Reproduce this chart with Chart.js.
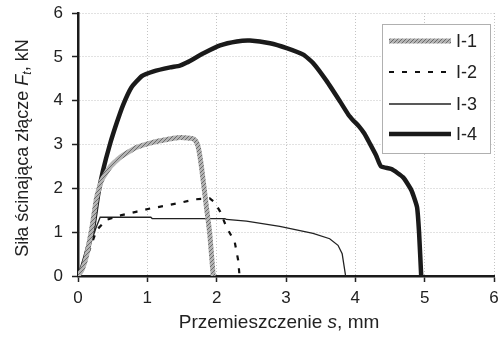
<!DOCTYPE html>
<html>
<head>
<meta charset="utf-8">
<script src="https://cdn.jsdelivr.net/npm/chart.js@4"></script>
<style>
  body { margin: 0; background: #fff; }
  #wrap { width: 499px; height: 344px; }
</style>
</head>
<body>
<div id="wrap"><canvas id="chLine"></canvas></div>
<script>
// tick labels
let xTicks = [0, 1, 2, 3, 4, 5, 6];
let yTicks = [0, 1, 2, 3, 4, 5, 6];
let labels = ['I-1', 'I-2', 'I-3', 'I-4'];

// I-1
let x1 = [0, 0.06, 0.12, 0.2, 0.27, 0.34, 0.46, 0.6, 0.84, 1.08, 1.3, 1.47, 1.58, 1.66, 1.71, 1.74, 1.78, 1.85, 1.9, 1.95];
let y1 = [0, 0.15, 0.44, 1.1, 1.8, 2.18, 2.48, 2.7, 2.93, 3.05, 3.12, 3.16, 3.15, 3.13, 3.05, 2.9, 2.5, 1.6, 0.97, 0];
// I-2
let x2 = [0, 0.1, 0.2, 0.27, 0.41, 0.63, 0.85, 1.04, 1.25, 1.47, 1.69, 1.9, 1.97, 2.05, 2.14, 2.26, 2.31, 2.33];
let y2 = [0, 0.3, 0.75, 1.05, 1.28, 1.39, 1.47, 1.54, 1.6, 1.67, 1.75, 1.77, 1.68, 1.47, 1.12, 0.78, 0.36, 0];
// I-3
let x3 = [0, 0.1, 0.2, 0.26, 0.32, 1.05, 1.07, 2.12, 2.14, 2.43, 2.91, 3.39, 3.63, 3.75, 3.81, 3.86];
let y3 = [0, 0.3, 0.82, 1.1, 1.34, 1.34, 1.31, 1.31, 1.29, 1.25, 1.13, 0.97, 0.85, 0.7, 0.51, 0];
// I-4
let x4 = [0, 0.05, 0.12, 0.22, 0.29, 0.36, 0.46, 0.56, 0.65, 0.77, 0.92, 1.09, 1.33, 1.47, 1.57, 1.81, 2.05, 2.29, 2.48, 2.77, 3.01, 3.25, 3.39, 3.59, 3.78, 3.9, 3.97, 4.05, 4.13, 4.21, 4.3, 4.37, 4.52, 4.69, 4.81, 4.89, 4.92, 4.95];
let y4 = [0, 0.15, 0.51, 1.12, 1.85, 2.4, 3.0, 3.5, 3.9, 4.3, 4.56, 4.67, 4.76, 4.8, 4.87, 5.08, 5.26, 5.35, 5.37, 5.31, 5.2, 5.05, 4.86, 4.44, 3.98, 3.68, 3.55, 3.42, 3.25, 3.02, 2.75, 2.5, 2.44, 2.25, 1.95, 1.57, 0.97, 0];

function pts(xs, ys) {
    return xs.map((x, i) => ({ x: x, y: ys[i] }));
}

// speckled grey for I-1
function hatch() {
    let c = document.createElement('canvas');
    c.width = 4; c.height = 4;
    let g = c.getContext('2d');
    g.fillStyle = '#b4b4b4';
    g.fillRect(0, 0, 4, 4);
    g.fillStyle = '#6a6a6a';
    g.fillRect(0, 0, 1, 1);
    g.fillRect(2, 2, 1, 1);
    g.fillRect(1, 3, 1, 1);
    g.fillRect(3, 1, 1, 1);
    return g.createPattern(c, 'repeat');
}

let font = "'Liberation Sans', Arial, sans-serif";

// axis titles with italic parts
const titles = {
    id: 'titles',
    afterDraw(chart) {
        let ctx = chart.ctx;
        function drawParts(parts, cx, cy) {
            let w = 0;
            parts.forEach(p => {
                ctx.font = (p.it ? 'italic ' : '') + p.size + 'px ' + font;
                p.w = ctx.measureText(p.t).width;
                w += p.w;
            });
            let x = cx - w / 2;
            parts.forEach(p => {
                ctx.font = (p.it ? 'italic ' : '') + p.size + 'px ' + font;
                ctx.fillText(p.t, x, cy + (p.dy || 0));
                x += p.w;
            });
        }
        ctx.save();
        ctx.fillStyle = '#222';
        ctx.textBaseline = 'middle';
        ctx.textAlign = 'left';
        drawParts([
            { t: 'Przemieszczenie ', size: 19 },
            { t: 's', size: 19, it: true },
            { t: ', mm', size: 19 }
        ], 279, 323);
        ctx.translate(23, 148);
        ctx.rotate(-Math.PI / 2);
        drawParts([
            { t: 'Siła ścinająca złącze ', size: 18 },
            { t: 'F', size: 18, it: true },
            { t: 't', size: 12, it: true, dy: 5 },
            { t: ', kN', size: 18 }
        ], 0, 0);
        ctx.restore();
    }
};

// boxed legend inside the plot
const boxLegend = {
    id: 'boxLegend',
    afterDraw(chart) {
        let ctx = chart.ctx;
        ctx.save();
        ctx.fillStyle = '#fff';
        ctx.fillRect(382, 24, 108, 129);
        ctx.strokeStyle = '#b0b0b0';
        ctx.lineWidth = 1;
        ctx.strokeRect(382.5, 24.5, 108, 129);
        let rows = [41, 72, 104, 134];
        chart.data.datasets.forEach((ds, i) => {
            ctx.strokeStyle = ds.borderColor;
            ctx.lineWidth = ds.borderWidth;
            ctx.setLineDash(ds.borderDash || []);
            ctx.beginPath();
            ctx.moveTo(389, rows[i]);
            ctx.lineTo(451, rows[i]);
            ctx.stroke();
            ctx.setLineDash([]);
            ctx.fillStyle = '#222';
            ctx.font = '18px ' + font;
            ctx.textBaseline = 'middle';
            ctx.fillText(ds.label, 456, rows[i] + 1);
        });
        ctx.restore();
    }
};

let ctxEl = document.getElementById('chLine');
new Chart(ctxEl, {
    type: 'line',
    data: {
        datasets: [
            { label: labels[0], data: pts(x1, y1), borderColor: hatch(), borderWidth: 5, tension: 0.15 },
            { label: labels[1], data: pts(x2, y2), borderColor: '#111', borderWidth: 2.2, borderDash: [5, 8], tension: 0 },
            { label: labels[2], data: pts(x3, y3), borderColor: '#222', borderWidth: 1.3, tension: 0 },
            { label: labels[3], data: pts(x4, y4), borderColor: '#1a1a1a', borderWidth: 4.5, tension: 0.15 }
        ]
    },
    options: {
        responsive: true,
        maintainAspectRatio: false,
        animation: false,
        elements: { point: { radius: 0 } },
        layout: { padding: { left: 0, top: 13, right: 5, bottom: 0 } },
        plugins: { legend: { display: false }, tooltip: { enabled: false } },
        scales: {
            x: {
                type: 'linear', min: 0, max: 6,
                afterFit(s) { s.height = 68; s.paddingLeft = 0; s.paddingRight = 0; },
                afterBuildTicks(s) { s.ticks = xTicks.map(v => ({ value: v })); },
                ticks: { font: { family: font, size: 17 }, color: '#222', padding: 6, maxRotation: 0 },
                grid: { color: '#c4c4c4', tickColor: '#222', tickLength: 6, tickWidth: 1.5, tickBorderDash: [] },
                border: { color: '#1a1a1a', width: 2.5, dash: [1, 2] }
            },
            y: {
                min: 0, max: 6,
                afterFit(s) { s.width = 78; s.paddingTop = 0; s.paddingBottom = 0; },
                afterBuildTicks(s) { s.ticks = yTicks.map(v => ({ value: v })); },
                ticks: { font: { family: font, size: 17 }, color: '#222', padding: 9 },
                grid: { color: '#c4c4c4', tickColor: '#222', tickLength: 6, tickWidth: 1.5, tickBorderDash: [] },
                border: { color: '#1a1a1a', width: 2.5, dash: [1, 2] }
            }
        }
    },
    plugins: [titles, boxLegend]
});
</script>
</body>
</html>
